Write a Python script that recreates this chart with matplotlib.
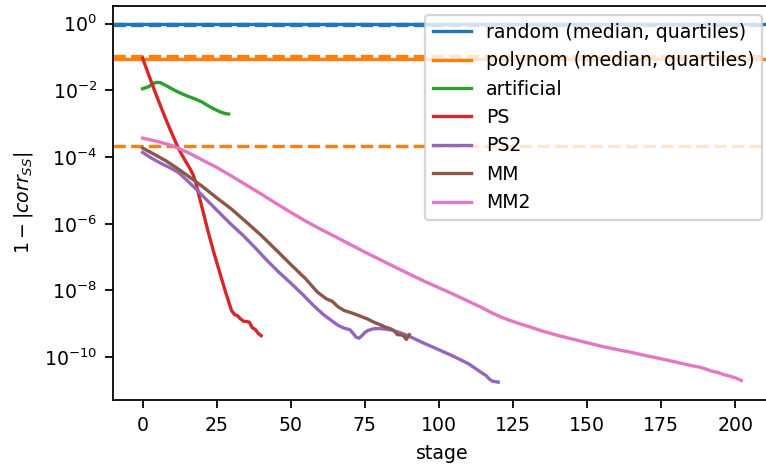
import matplotlib
matplotlib.use("Agg")
import matplotlib.pyplot as plt

# reference levels: median and quartiles of 1-|corr| over the whole run
random_median = 0.95
random_quartiles = [0.90, 0.99]
polynom_median = 0.09
polynom_quartiles = [2.2e-4, 0.105]

art_stage = [0, 2, 4, 5, 6, 8, 10, 12, 14, 16, 18, 20, 22, 24, 26, 28, 29]
art_corr = [1.12e-2, 1.29e-2, 1.66e-2, 1.74e-2, 1.70e-2, 1.38e-2, 1.10e-2, 8.9e-3,
            7.4e-3, 6.3e-3, 5.4e-3, 4.5e-3, 3.5e-3, 2.8e-3, 2.3e-3, 2.0e-3, 1.95e-3]

ps_stage = [0, 2, 4, 6, 8, 10, 12, 14, 16, 17, 18, 19, 20, 22, 24, 26, 28, 30,
            31, 32, 33, 34, 35, 36, 37, 38, 39, 40]
ps_corr = [9.3e-2, 3.0e-2, 1.0e-2, 3.5e-3, 1.26e-3, 4.8e-4, 1.9e-4, 8.9e-5, 4.5e-5,
           3.0e-5, 1.66e-5, 7.1e-6, 3.2e-6, 6.3e-7, 1.4e-7, 3.5e-8, 8.9e-9, 2.5e-9,
           1.9e-9, 1.74e-9, 1.41e-9, 1.2e-9, 1.17e-9, 1.12e-9, 7.6e-10, 6.8e-10,
           5.2e-10, 4.4e-10]

ps2_stage = [0, 3, 6, 9, 12, 15, 18, 22, 26, 30, 34, 38, 42, 46, 50, 54, 58, 61,
             64, 66, 68, 70, 71, 72, 73, 74, 75, 76, 78, 80, 82, 84, 87, 90, 95,
             100, 105, 110, 114, 116, 117, 118, 120]
ps2_corr = [1.38e-4, 9.3e-5, 6.6e-5, 4.9e-5, 3.5e-5, 2.0e-5, 1.10e-5, 4.8e-6, 2.1e-6,
            9.3e-7, 4.4e-7, 1.9e-7, 7.9e-8, 3.5e-8, 1.66e-8, 7.6e-9, 3.3e-9, 1.9e-9,
            1.2e-9, 8.9e-10, 7.4e-10, 6.6e-10, 5.2e-10, 4.0e-10, 3.7e-10, 4.4e-10,
            5.5e-10, 6.3e-10, 7.1e-10, 7.2e-10, 6.9e-10, 6.5e-10, 5.4e-10, 4.2e-10,
            2.6e-10, 1.66e-10, 1.05e-10, 6.3e-11, 3.6e-11, 2.75e-11, 2.2e-11,
            1.9e-11, 1.78e-11]

mm_stage = [0, 4, 8, 12, 16, 20, 25, 30, 35, 40, 45, 50, 55, 59, 62, 64, 66, 68,
            70, 72, 74, 76, 78, 80, 82, 84, 85, 86, 87, 88, 89, 90]
mm_corr = [1.86e-4, 1.20e-4, 7.6e-5, 4.4e-5, 2.45e-5, 1.35e-5, 6.0e-6, 2.75e-6,
           1.12e-6, 4.5e-7, 1.66e-7, 6.0e-8, 2.24e-8, 8.9e-9, 5.6e-9, 4.7e-9, 3.2e-9,
           2.5e-9, 2.2e-9, 1.9e-9, 1.62e-9, 1.38e-9, 1.12e-9, 9.5e-10, 7.9e-10,
           6.9e-10, 6.0e-10, 4.7e-10, 4.7e-10, 4.4e-10, 3.4e-10, 4.7e-10]

mm2_stage = [0, 5, 10, 15, 20, 25, 30, 35, 40, 45, 50, 55, 60, 65, 70, 75, 80, 85,
             90, 95, 100, 105, 110, 114, 118, 121, 124, 127, 131, 135, 140, 145,
             150, 155, 160, 165, 170, 175, 180, 185, 188, 190, 192, 194, 196, 198,
             200, 202]
mm2_corr = [3.7e-4, 2.95e-4, 2.2e-4, 1.41e-4, 8.3e-5, 4.9e-5, 2.7e-5, 1.45e-5,
            7.8e-6, 4.1e-6, 2.2e-6, 1.2e-6, 6.9e-7, 4.1e-7, 2.4e-7, 1.41e-7, 8.5e-8,
            5.1e-8, 3.1e-8, 1.9e-8, 1.2e-8, 7.6e-9, 4.7e-9, 3.2e-9, 2.1e-9, 1.58e-9,
            1.26e-9, 1.02e-9, 7.9e-10, 6.0e-10, 4.5e-10, 3.5e-10, 2.7e-10, 2.1e-10,
            1.7e-10, 1.38e-10, 1.10e-10, 8.9e-11, 7.1e-11, 5.6e-11, 5.0e-11, 4.4e-11,
            3.8e-11, 3.5e-11, 3.0e-11, 2.7e-11, 2.4e-11, 2.0e-11]

plt.rcParams["font.size"] = 8.5

fig = plt.figure(figsize=(766 / 160, 466 / 160), dpi=160)
ax = fig.add_axes([0.1471, 0.1406, 0.8597, 0.8472])

ax.axhline(random_median, color="C0", label="random (median, quartiles)")
for q in random_quartiles:
    ax.axhline(q, color="C0", linestyle="--")
ax.axhline(polynom_median, color="C1", label="polynom (median, quartiles)")
for q in polynom_quartiles:
    ax.axhline(q, color="C1", linestyle="--")

ax.plot(art_stage, art_corr, color="C2", label="artificial")
ax.plot(ps_stage, ps_corr, color="C3", label="PS")
ax.plot(ps2_stage, ps2_corr, color="C4", label="PS2")
ax.plot(mm_stage, mm_corr, color="C5", label="MM")
ax.plot(mm2_stage, mm2_corr, color="C6", label="MM2")

ax.set_yscale("log")
ax.set_ylim(10 ** -11.3, 10 ** 0.54)
ax.set_xlabel("stage")
ax.set_ylabel(r"$1-|corr_{SS}|$")
ax.legend(loc="upper right")

fig.savefig("out.png", dpi=160)
